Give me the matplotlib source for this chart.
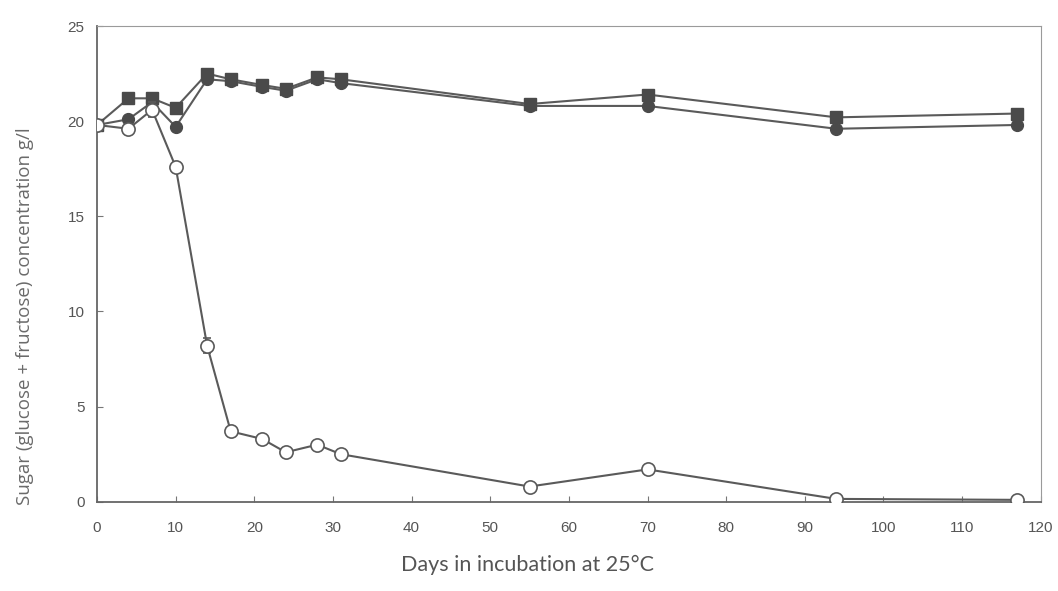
import matplotlib
matplotlib.use("Agg")
import matplotlib.pyplot as plt

# jours d'incubation et concentrations en sucre (g/l)
days = [0, 4, 7, 10, 14, 17, 21, 24, 28, 31, 55, 70, 94, 117]
sugar_squares = [19.8, 21.2, 21.2, 20.7, 22.5, 22.2, 21.9, 21.7, 22.3, 22.2, 20.9, 21.4, 20.2, 20.4]
sugar_filled = [19.8, 20.1, 21.0, 19.7, 22.2, 22.1, 21.8, 21.6, 22.2, 22.0, 20.8, 20.8, 19.6, 19.8]
sugar_open = [19.8, 19.6, 20.6, 17.6, 8.2, 3.7, 3.3, 2.6, 3.0, 2.5, 0.8, 1.7, 0.15, 0.1]
err_open = [0, 0, 0.4, 0, 0.4, 0.2, 0, 0, 0, 0, 0, 0, 0, 0]

x_ticks = list(range(0, 121, 10))
y_ticks = list(range(0, 26, 5))

line_col = "#5a5a5a"
mark_col = "#4a4a4a"

fig = plt.figure(figsize=(10.58, 5.91), dpi=100)
ax = fig.add_axes([0.0917, 0.151, 0.892, 0.805])

ax.plot(days, sugar_squares, color=line_col, lw=1.5, marker="s", ms=8.5,
        mfc=mark_col, mec=mark_col, zorder=3)
ax.plot(days, sugar_filled, color=line_col, lw=1.5, marker="o", ms=8.5,
        mfc=mark_col, mec=mark_col, zorder=3)
ax.errorbar(days, sugar_open, yerr=err_open, color=line_col, lw=1.5, marker="o",
            ms=9.5, mfc="white", mec=line_col, mew=1.2, capsize=3, elinewidth=1,
            zorder=4)

ax.set_xlim(0, 120)
ax.set_ylim(0, 25)
ax.set_xticks(x_ticks)
ax.set_yticks(y_ticks)
ax.tick_params(direction="in", length=4, width=0.8, colors="#777777",
               labelcolor="#555555", labelsize=11)
ax.tick_params(axis="x", pad=14)
ax.tick_params(axis="y", pad=9)
for lab in ax.get_xticklabels() + ax.get_yticklabels():
    lab.set_family("Liberation Sans")

for s in ["left", "bottom"]:
    ax.spines[s].set_color("#666666")
    ax.spines[s].set_linewidth(1.3)
for s in ["top", "right"]:
    ax.spines[s].set_color("#9a9a9a")
    ax.spines[s].set_linewidth(0.8)

fig.text(0.024, 0.465, "Sugar (glucose + fructose) concentration g/l", rotation=90,
         ha="center", va="center", fontsize=13.5, color="#6a6a6a", family="Open Sans")
fig.text(0.499, 0.044, "Days in incubation at 25°C", ha="center", va="center",
         fontsize=15.5, color="#555555", family="Lato")

fig.savefig("out.png", dpi=100, facecolor="white")
